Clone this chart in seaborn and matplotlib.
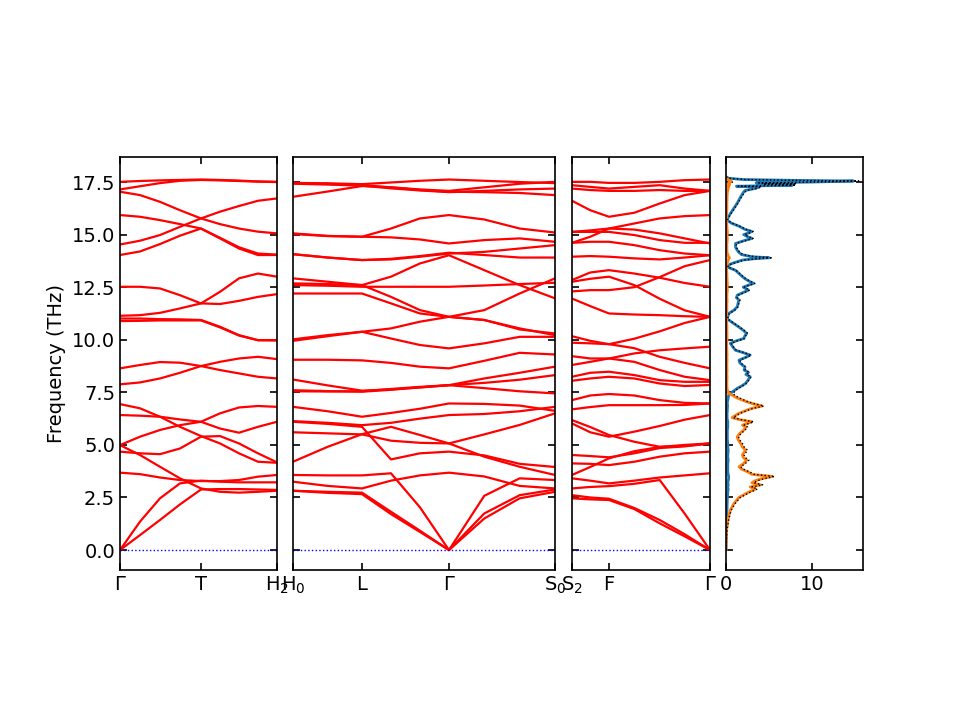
import matplotlib
matplotlib.use("Agg")
import matplotlib.pyplot as plt
import seaborn as sns
import pandas as pd
import numpy as np

# k-path sample positions (distance along path) and high-symmetry labels
p1_k = [0, 0.2, 0.4, 0.6, 0.81, 1.0, 1.19, 1.38, 1.57]
p1_ticks = [0, 0.81, 1.57]
p1_labels = ['Γ', 'T', 'H$_2$']

p2_k = [0, 0.347, 0.69, 0.98, 1.27, 1.56, 1.913, 2.267, 2.62]
p2_ticks = [0, 0.69, 1.56, 2.62]
p2_labels = ['H$_0$', 'L', 'Γ', 'S$_0$']

p3_k = [0, 0.183, 0.37, 0.623, 0.877, 1.127, 1.38]
p3_ticks = [0, 0.37, 1.38]
p3_labels = ['S$_2$', 'F', 'Γ']

# phonon branches (THz), one row per branch
p1_bands = [
    [17.51, 17.55, 17.58, 17.6, 17.62, 17.6, 17.57, 17.53, 17.51],
    [17.15, 17.3, 17.45, 17.56, 17.6, 17.58, 17.55, 17.52, 17.5],
    [17.04, 16.88, 16.56, 16.16, 15.77, 15.5, 15.29, 15.14, 15.06],
    [15.93, 15.85, 15.69, 15.5, 15.29, 14.82, 14.34, 14.03, 14.03],
    [14.53, 14.71, 14.98, 15.37, 15.77, 16.09, 16.36, 16.61, 16.72],
    [14.03, 14.2, 14.55, 14.95, 15.29, 14.85, 14.4, 14.1, 14.05],
    [12.52, 12.52, 12.44, 12.12, 11.73, 11.7, 11.85, 12.04, 12.17],
    [11.14, 11.17, 11.28, 11.49, 11.73, 12.28, 12.92, 13.15, 13.0],
    [11.01, 11.01, 10.98, 10.97, 10.94, 10.62, 10.22, 9.98, 9.98],
    [10.89, 10.9, 10.92, 10.92, 10.92, 10.59, 10.2, 9.98, 9.97],
    [8.64, 8.8, 8.94, 8.91, 8.75, 8.56, 8.4, 8.24, 8.16],
    [7.88, 7.97, 8.16, 8.43, 8.75, 8.95, 9.11, 9.19, 9.08],
    [6.94, 6.74, 6.34, 5.86, 5.42, 5.07, 4.6, 4.2, 4.15],
    [6.42, 6.39, 6.34, 6.21, 6.1, 5.78, 5.58, 5.86, 6.1],
    [4.99, 5.39, 5.71, 5.94, 6.1, 6.5, 6.78, 6.85, 6.81],
    [4.68, 4.6, 4.56, 4.83, 5.39, 5.42, 5.07, 4.6, 4.17],
    [4.99, 4.52, 3.96, 3.41, 2.93, 2.77, 2.73, 2.77, 2.82],
    [3.68, 3.61, 3.45, 3.33, 3.28, 3.28, 3.33, 3.49, 3.57],
    [0, 1.35, 2.46, 3.17, 3.3, 3.25, 3.22, 3.22, 3.22],
    [0, 0.71, 1.43, 2.17, 2.88, 2.9, 2.9, 2.88, 2.86],
]

p2_bands = [
    [17.46, 17.44, 17.4, 17.48, 17.56, 17.62, 17.56, 17.5, 17.45],
    [17.46, 17.42, 17.35, 17.25, 17.15, 17.08, 17.25, 17.42, 17.51],
    [16.8, 17.05, 17.31, 17.25, 17.12, 17.04, 17.02, 16.98, 16.88],
    [17.42, 17.38, 17.33, 17.2, 17.1, 17.02, 17.08, 17.15, 17.19],
    [15.06, 14.94, 14.9, 15.29, 15.77, 15.93, 15.72, 15.29, 15.1],
    [15.03, 14.93, 14.9, 14.87, 14.77, 14.58, 14.74, 14.82, 14.66],
    [14.07, 13.91, 13.79, 13.85, 13.98, 14.14, 14.03, 13.91, 13.91],
    [14.07, 13.91, 13.79, 13.82, 13.95, 14.1, 14.18, 14.34, 14.5],
    [12.92, 12.76, 12.6, 13.0, 13.63, 14.02, 13.31, 12.6, 11.97],
    [12.68, 12.65, 12.6, 12.04, 11.41, 11.09, 11.41, 12.2, 12.92],
    [12.2, 12.2, 12.2, 11.73, 11.25, 11.09, 10.94, 10.54, 10.22],
    [12.6, 12.57, 12.52, 12.52, 12.52, 12.52, 12.58, 12.65, 12.71],
    [10.02, 10.22, 10.38, 10.54, 10.86, 11.09, 10.94, 10.49, 10.3],
    [9.95, 10.17, 10.38, 10.06, 9.75, 9.59, 9.83, 10.14, 10.14],
    [9.05, 9.05, 9.02, 8.9, 8.72, 8.64, 9.0, 9.38, 9.3],
    [8.11, 7.83, 7.58, 7.64, 7.73, 7.84, 8.16, 8.43, 8.72],
    [7.6, 7.56, 7.53, 7.62, 7.74, 7.84, 7.7, 7.55, 7.45],
    [7.55, 7.54, 7.55, 7.66, 7.76, 7.84, 7.95, 8.1, 8.32],
    [6.81, 6.6, 6.34, 6.52, 6.72, 6.97, 6.95, 6.87, 6.62],
    [6.13, 6.05, 5.94, 6.05, 6.25, 6.42, 6.47, 6.6, 6.81],
    [4.2, 4.91, 5.51, 5.86, 5.47, 5.07, 4.44, 3.96, 3.57],
    [6.1, 6.0, 5.86, 4.31, 4.6, 4.68, 4.5, 4.1, 3.95],
    [5.6, 5.55, 5.5, 5.2, 5.1, 5.07, 5.5, 5.95, 6.5],
    [3.57, 3.55, 3.55, 3.65, 2.03, 0, 2.58, 3.41, 3.33],
    [3.25, 3.05, 2.93, 3.3, 3.55, 3.68, 3.5, 3.05, 2.93],
    [2.82, 2.77, 2.73, 1.82, 0.92, 0, 1.74, 2.61, 2.88],
    [2.82, 2.72, 2.66, 1.71, 0.86, 0, 1.5, 2.46, 2.77],
]

p3_bands = [
    [17.51, 17.51, 17.46, 17.46, 17.51, 17.59, 17.62],
    [17.35, 17.27, 17.19, 17.27, 17.35, 17.19, 17.08],
    [17.19, 17.12, 17.08, 17.08, 17.12, 17.08, 17.08],
    [16.61, 16.16, 15.85, 16.04, 16.48, 16.88, 17.08],
    [15.13, 15.2, 15.29, 15.53, 15.77, 15.88, 15.93],
    [14.61, 14.9, 15.29, 15.24, 15.06, 14.82, 14.58],
    [15.13, 15.13, 15.13, 14.98, 14.74, 14.61, 14.61],
    [14.61, 14.66, 14.66, 14.5, 14.26, 14.1, 14.02],
    [13.95, 13.98, 13.95, 13.87, 13.82, 13.91, 14.02],
    [12.84, 13.2, 13.31, 13.15, 12.95, 12.7, 12.52],
    [12.76, 12.9, 13.0, 12.6, 11.95, 11.4, 11.09],
    [12.3, 12.36, 12.36, 12.5, 12.98, 13.5, 13.79],
    [11.96, 11.6, 11.25, 11.2, 11.17, 11.12, 11.09],
    [10.17, 9.95, 9.79, 10.05, 10.4, 10.8, 11.09],
    [9.86, 9.83, 9.79, 9.6, 9.19, 8.9, 8.64],
    [9.22, 9.11, 9.11, 9.35, 9.5, 9.59, 9.67],
    [8.8, 8.95, 9.11, 8.95, 8.56, 8.24, 8.08],
    [8.24, 8.43, 8.48, 8.32, 8.08, 8.0, 8.0],
    [8.05, 8.16, 8.24, 8.16, 7.92, 7.8, 7.85],
    [7.13, 7.35, 7.42, 7.35, 7.13, 7.0, 6.97],
    [6.69, 6.8, 6.89, 6.89, 6.89, 6.9, 6.97],
    [6.18, 5.85, 5.47, 5.15, 4.91, 4.95, 5.07],
    [6.02, 5.6, 5.39, 5.63, 5.9, 6.2, 6.42],
    [4.52, 4.47, 4.41, 4.6, 4.85, 4.93, 5.07],
    [4.12, 4.1, 4.04, 4.2, 4.44, 4.6, 4.68],
    [3.57, 3.95, 4.36, 4.7, 4.9, 5.0, 5.07],
    [3.41, 3.3, 3.17, 3.3, 3.45, 3.55, 3.65],
    [2.93, 3.0, 3.04, 3.15, 3.33, 1.73, 0],
    [2.61, 2.5, 2.44, 2.0, 1.43, 0.75, 0],
    [2.46, 2.41, 2.38, 1.95, 1.27, 0.65, 0],
]

# partial DOS (blue / orange) on a frequency grid
dos_freq = [0.0, 0.5, 1.0, 1.5, 1.9, 2.2, 2.5, 2.75, 2.9, 3.0,
            3.1, 3.2, 3.3, 3.4, 3.5, 3.6, 3.7, 3.85, 3.96, 4.1,
            4.28, 4.4, 4.52, 4.75, 4.9, 5.07, 5.25, 5.39, 5.55, 5.7,
            5.85, 5.94, 6.1, 6.2, 6.3, 6.5, 6.65, 6.74, 6.85, 6.95,
            7.05, 7.13, 7.25, 7.37, 7.45, 7.6, 7.69, 7.8, 7.92, 8.05,
            8.24, 8.35, 8.45, 8.56, 8.7, 8.8, 8.9, 9.03, 9.15, 9.27,
            9.4, 9.5, 9.65, 9.83, 9.95, 10.06, 10.2, 10.3, 10.45, 10.6,
            10.8, 11.0, 11.1, 11.25, 11.4, 11.57, 11.75, 11.89, 12.0, 12.12,
            12.25, 12.36, 12.5, 12.6, 12.68, 12.8, 12.9, 13.0, 13.15, 13.3,
            13.47, 13.6, 13.7, 13.79, 13.85, 13.9, 13.95, 14.05, 14.15, 14.26,
            14.4, 14.58, 14.7, 14.82, 14.9, 15.0, 15.08, 15.15, 15.25, 15.4,
            15.55, 15.7, 15.85, 16.0, 16.25, 16.5, 16.8, 17.0, 17.1, 17.2,
            17.27, 17.3, 17.35, 17.4, 17.42, 17.46, 17.5, 17.55, 17.58, 17.62,
            17.68, 17.75]
dos_blue = [0, 0.02, 0.05, 0.08, 0.1, 0.12, 0.15, 0.2, 0.25, 0.2,
            0.25, 0.2, 0.25, 0.3, 0.3, 0.25, 0.2, 0.2, 0.2, 0.2,
            0.25, 0.2, 0.2, 0.25, 0.2, 0.2, 0.15, 0.15, 0.15, 0.15,
            0.2, 0.2, 0.2, 0.15, 0.12, 0.12, 0.15, 0.15, 0.18, 0.15,
            0.15, 0.2, 0.25, 0.3, 0.5, 1.0, 1.3, 1.8, 2.25, 2.5,
            2.8, 2.3, 2.6, 2.1, 2.2, 1.9, 1.6, 1.5, 2.2, 2.8,
            1.9, 1.1, 0.8, 0.5, 1.2, 2.05, 2.2, 2.4, 2.0, 1.5,
            0.8, 0.1, 0.2, 0.3, 0.9, 1.3, 1.4, 1.5, 1.2, 1.3,
            2.0, 2.6, 2.0, 2.6, 3.2, 2.6, 2.2, 1.9, 1.5, 1.1,
            0.1, 0.5, 1.2, 1.9, 3.2, 5.0, 3.0, 1.8, 1.5, 1.3,
            1.1, 1.1, 2.0, 3.0, 2.5, 2.05, 2.6, 3.0, 2.2, 1.5,
            0.6, 0.1, 0.3, 0.5, 0.9, 1.3, 1.7, 2.0, 2.2, 3.4,
            3.8, 1.2, 7.7, 4.0, 7.8, 3.5, 10.0, 14.8, 8.0, 2.0,
            0.3, 0.0]
dos_orange = [0, 0.02, 0.08, 0.25, 0.5, 0.9, 1.5, 2.6, 3.4, 2.8,
              4.0, 3.0, 3.4, 4.2, 5.35, 3.0, 2.6, 1.8, 1.5, 2.0,
              2.4, 2.0, 1.9, 2.25, 1.9, 1.7, 1.4, 1.3, 1.6, 2.05,
              2.3, 1.9, 3.0, 1.6, 0.7, 1.5, 2.4, 3.0, 4.2, 3.2,
              2.4, 1.9, 1.2, 0.7, 0.3, 0.15, 0.12, 0.1, 0.1, 0.1,
              0.12, 0.1, 0.1, 0.12, 0.1, 0.1, 0.1, 0.12, 0.1, 0.12,
              0.1, 0.1, 0.08, 0.08, 0.1, 0.12, 0.1, 0.12, 0.1, 0.1,
              0.08, 0.05, 0.05, 0.08, 0.1, 0.1, 0.1, 0.12, 0.1, 0.1,
              0.12, 0.15, 0.12, 0.15, 0.15, 0.12, 0.12, 0.1, 0.1, 0.08,
              0.05, 0.1, 0.2, 0.25, 0.3, 0.4, 0.3, 0.2, 0.12, 0.1,
              0.1, 0.1, 0.12, 0.15, 0.12, 0.12, 0.15, 0.15, 0.12, 0.1,
              0.08, 0.05, 0.05, 0.08, 0.1, 0.1, 0.12, 0.15, 0.2, 0.25,
              0.3, 0.2, 0.4, 0.3, 0.4, 0.3, 0.5, 0.6, 0.4, 0.2,
              0.05, 0.0]

y_ticks = [0, 2.5, 5, 7.5, 10, 12.5, 15, 17.5]
y_range = (-0.95, 18.69)


def band_frame(k, bands):
    rows = []
    for i, b in enumerate(bands):
        for kk, f in zip(k, b):
            rows.append({'k': kk, 'freq': f, 'band': i})
    return pd.DataFrame(rows)


sns.set_theme(style="ticks")
plt.rcParams['font.family'] = ['DejaVu Sans']
plt.rcParams['font.size'] = 14
plt.rcParams['axes.linewidth'] = 1.2
# plain black axes and text like the original
for key in ['text.color', 'axes.labelcolor', 'axes.edgecolor',
            'xtick.color', 'ytick.color']:
    plt.rcParams[key] = 'black'

fig = plt.figure(figsize=(9.6, 7.2), dpi=100)
bottom, height = 0.2083, 0.5736
ax1 = fig.add_axes([0.125, bottom, 0.1635, height])
ax2 = fig.add_axes([0.3052, bottom, 0.2729, height])
ax3 = fig.add_axes([0.5958, bottom, 0.1438, height])
ax4 = fig.add_axes([0.7563, bottom, 0.1427, height])

panels = [(ax1, p1_k, p1_bands, p1_ticks, p1_labels),
          (ax2, p2_k, p2_bands, p2_ticks, p2_labels),
          (ax3, p3_k, p3_bands, p3_ticks, p3_labels)]

for ax, k, bands, ticks, labels in panels:
    df = band_frame(k, bands)
    sns.lineplot(data=df, x='k', y='freq', units='band', estimator=None,
                 color='red', linewidth=1.6, ax=ax, legend=False)
    ax.axhline(0, color='blue', linestyle=':', linewidth=1)
    ax.set_xlim(k[0], k[-1])
    ax.set_ylim(*y_range)
    ax.set_xticks(ticks)
    ax.set_xticklabels(labels)
    ax.set_yticks(y_ticks)
    ax.set_xlabel('')
    ax.set_ylabel('')
    ax.tick_params(direction='in', top=True, right=True, labelsize=14,
                   width=1.2, length=5)

ax1.set_ylabel('Frequency (THz)', fontsize=14)
ax2.set_yticklabels([])
ax3.set_yticklabels([])

# density of states panel
sns.lineplot(x=dos_blue, y=dos_freq, sort=False, estimator=None,
             color='#1f77b4', linewidth=2, ax=ax4)
sns.lineplot(x=dos_orange, y=dos_freq, sort=False, estimator=None,
             color='#ff7f0e', linewidth=2, ax=ax4)
dos_total = np.array(dos_blue) + np.array(dos_orange)
ax4.plot(dos_total, dos_freq, color='black', linestyle=':', linewidth=1)
ax4.set_xlim(0, 15.9)
ax4.set_ylim(*y_range)
ax4.set_xticks([0, 10])
ax4.set_yticks(y_ticks)
ax4.set_yticklabels([])
ax4.tick_params(direction='in', top=True, right=True, labelsize=14,
                width=1.2, length=5)

fig.savefig('out.png', dpi=100)
